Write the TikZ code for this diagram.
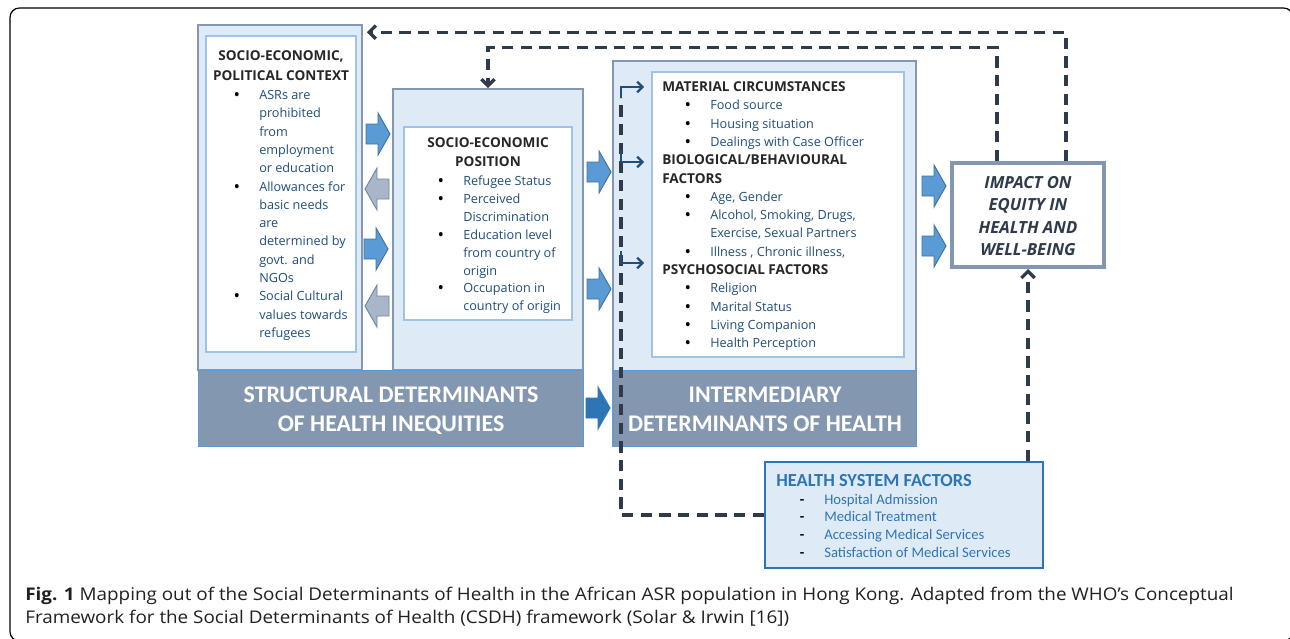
\documentclass[tikz,border=0pt]{standalone}
\usepackage{fontspec}
\setmainfont{Open Sans}
\newfontfamily\calfont{Carlito}
\newfontfamily\capfont[FakeStretch=1.08]{Open Sans}
\usetikzlibrary{arrows.meta,calc,fit}
\definecolor{boxfill}{HTML}{DEEAF6}
\definecolor{slate}{HTML}{8497B0}
\definecolor{innerline}{HTML}{9DC3E6}
\definecolor{itemblue}{HTML}{1F4E79}
\definecolor{headdark}{HTML}{262626}
\definecolor{navy}{HTML}{2F3A4A}
\definecolor{hsblue}{HTML}{2E75B6}
\definecolor{hsfill}{HTML}{DEEBF7}
\definecolor{arrfill}{HTML}{5B9BD5}
\definecolor{arrdraw}{HTML}{41719C}
\definecolor{grayfill}{HTML}{A9B6C9}
\definecolor{graydraw}{HTML}{6F86A6}
\definecolor{capcol}{HTML}{231F20}
\begin{document}
\begin{tikzpicture}[x=0.75pt,y=-0.75pt,
  outerbox/.style={draw=slate, fill=boxfill, line width=1.2pt, inner sep=0pt},
  innerbox/.style={draw=innerline, fill=white, line width=1.2pt, inner sep=0pt},
  bandbox/.style={draw=arrfill, fill=slate, line width=0.6pt, inner sep=0pt},
  itm/.style={anchor=base west, inner sep=0pt, text=itemblue, font=\fontsize{9.5}{11}\selectfont},
  bul/.style={anchor=base, inner sep=0pt, text=black, font=\fontsize{10}{11}\selectfont\bfseries},
  hdr/.style={inner sep=0pt, text=headdark, font=\fontsize{10.2}{11}\selectfont\bfseries},
  bandtxt/.style={anchor=base, inner sep=0pt, text=white, font=\calfont\fontsize{17.9}{20}\selectfont\bfseries},
  imptxt/.style={anchor=base, inner sep=0pt, text=navy, font=\fontsize{12.5}{14}\selectfont\bfseries\itshape},
  hsitm/.style={anchor=base west, inner sep=0pt, text=hsblue, font=\calfont\fontsize{11}{13}\selectfont},
  dl/.style={draw=navy, line width=2.5pt, dash pattern=on 8.5pt off 5.5pt},
  chev/.style={-{Straight Barb[length=5pt,width=10pt]}},
  brarr/.style={draw=itemblue, line width=1.6pt, -{Straight Barb[length=4pt,width=8pt]}},
  rblk/.pic={\path[fill=arrfill, draw=arrdraw, line width=0.7pt] (-12,-10) -- (0,-10) -- (0,-21) -- (12,0) -- (0,21) -- (0,10) -- (-12,10) -- cycle;},
  lblk/.pic={\path[fill=grayfill, draw=graydraw, line width=0.7pt] (12,-10) -- (0,-10) -- (0,-21) -- (-12,0) -- (0,21) -- (0,10) -- (12,10) -- cycle;},
  dblk/.pic={\path[fill=hsblue, draw=hsblue, line width=0.7pt] (-12,-10) -- (0,-10) -- (0,-21) -- (12,0) -- (0,21) -- (0,10) -- (-12,10) -- cycle;}
]
\useasboundingbox (0,0) rectangle (1290,639);
\clip (0,0) rectangle (1290,639);
\draw[line width=0.9pt, rounded corners=7pt] (10,8) rectangle (1293,641);

% structural determinants
\node[outerbox, fit={(198,25) (362,370)}] (ctx) {};
\node[innerbox, fit={(206,36) (356,352)}] (ctxin) {};
\node[outerbox, fit={(393,89) (583,370)}] (sep) {};
\node[innerbox, fit={(404,127) (572,320)}] (sepin) {};
\node[bandbox, fit={(198,370) (583,446)}] (sband) {};
\node[bandtxt] (st1) at (391,402) {STRUCTURAL DETERMINANTS};
\node[bandtxt] (st2) at (391,431) {OF HEALTH INEQUITIES};

% intermediary determinants
\node[outerbox, fit={(613,61) (916,446)}] (inter) {};
\node[innerbox, fit={(652,72) (904,357)}] (interin) {};
\node[bandbox, fit={(613,370) (916,446)}] (iband) {};
\node[bandtxt] (it1) at (765,402) {INTERMEDIARY};
\node[bandtxt] (it2) at (765,431) {DETERMINANTS OF HEALTH};

% impact box
\node[draw=slate, fill=white, line width=3pt, inner sep=0pt, fit={(952,163) (1104,267)}] (impact) {};
\foreach \t [count=\i from 0] in {IMPACT ON, EQUITY IN, HEALTH AND, WELL-BEING}
  \node[imptxt, name=imp\i] at (1028,188+22.6*\i) {\t};

% health system factors
\node[draw=hsblue, fill=hsfill, line width=1.5pt, inner sep=0pt, fit={(765,462) (1043,568)}] (health) {};
\node[anchor=base west, inner sep=0pt, text=hsblue, font=\calfont\fontsize{13.8}{15}\selectfont\bfseries] (hst) at (776,486) {HEALTH SYSTEM FACTORS};
\foreach \t [count=\i from 0] in {Hospital Admission, Medical Treatment, Accessing Medical Services, Satisfaction of Medical Services}{
  \node[hsitm, name=hs\i] at (824,504+17.8*\i) {\t};
  \node[anchor=base, inner sep=0pt, text=black, font=\calfont\fontsize{11}{12}\selectfont\bfseries, name=hsb\i] at (802,504+17.8*\i) {-};
}

% context box text
\node[hdr, anchor=base] (ct1) at (281,60.5) {SOCIO-ECONOMIC,};
\node[hdr, anchor=base] (ct2) at (281,80.5) {POLITICAL CONTEXT};
\foreach \t [count=\i from 0] in {ASRs are, prohibited, from, employment, or education, Allowances for, basic needs, are, determined by, govt. and, NGOs, Social Cultural, values towards, refugees}
  \node[itm, name=c\i] at (259,99.5+18.3*\i) {\t};
\foreach \i in {0,5,11}
  \node[bul, name=cb\i] at (237,99.5+18.3*\i) {•};

% socio-economic position text
\node[hdr, anchor=base] (sp1) at (488,147.5) {SOCIO-ECONOMIC};
\node[hdr, anchor=base] (sp2) at (488,166.5) {POSITION};
\foreach \t [count=\i from 0] in {Refugee Status, Perceived, Discrimination, Education level, from country of, origin, Occupation in, country of origin}
  \node[itm, name=s\i] at (463,185.5+17.9*\i) {\t};
\foreach \i in {0,1,3,6}
  \node[bul, name=sb\i] at (441,185.5+17.9*\i) {•};

% intermediary text
\node[hdr, anchor=base west] (h0) at (662,91.5) {MATERIAL CIRCUMSTANCES};
\node[hdr, anchor=base west] (h4) at (662,91.5+18.3*4) {BIOLOGICAL/BEHAVIOURAL};
\node[hdr, anchor=base west] (h5) at (662,91.5+18.3*5) {FACTORS};
\node[hdr, anchor=base west] (h10) at (662,91.5+18.3*10) {PSYCHOSOCIAL FACTORS};
\foreach \t/\k in {Food source/1, Housing situation/2, Dealings with Case Officer/3, {Age, Gender}/6, {Alcohol, Smoking, Drugs,}/7, {Exercise, Sexual Partners}/8, {Illness , Chronic illness,}/9, Religion/11, Marital Status/12, Living Companion/13, Health Perception/14}
  \node[itm, name=m\k] at (710,91.5+18.3*\k) {\t};
\foreach \k in {1,2,3,6,7,9,11,12,13,14}
  \node[bul, name=mb\k] at (688,91.5+18.3*\k) {•};

% block arrows
\pic (ra1) at (378,134) {rblk};
\pic (la1) at (377,189) {lblk};
\pic (ra2) at (376,249) {rblk};
\pic (la2) at (377,306) {lblk};
\pic (ra3) at (599,172) {rblk};
\pic (ra4) at (599,289) {rblk};
\pic (da1) at (598,408) {dblk};
\pic (ra5) at (934,186) {rblk};
\pic (ra6) at (934,246) {rblk};

% dashed feedback connectors
\draw[dl, chev] ($(impact.north)+(38,0)$) |- ($(ctx.north east)+(4,8)$);
\draw[dl, chev] ($(impact.north)+(-31,0)$) |- ($(sep.north)+(0,-41)$) -- (sep.north);
\draw[dl, chev] (impact.south |- health.north) -- (impact.south);
\coordinate (vtop) at (621,98);
\draw[dl] (health.west) -| (vtop);

% branch arrows into intermediary box
\coordinate (b1s) at (621,98);
\coordinate (b1e) at (644,87);
\coordinate (b2s) at (621,150);
\coordinate (b2e) at (644,162);
\coordinate (b3s) at (621,251);
\coordinate (b3e) at (644,263);
\draw[brarr] (b1s) |- (b1e);
\draw[brarr] (b2s) |- (b2e);
\draw[brarr] (b3s) |- (b3e);

% caption
\node[anchor=base west, inner sep=0pt, text=capcol, font=\capfont\fontsize{13.1}{15}\selectfont] (cap1) at (25,600) {\textbf{Fig. 1} Mapping out of the Social Determinants of Health in the African ASR population in Hong Kong. Adapted from the WHO’s Conceptual};
\node[anchor=base west, inner sep=0pt, text=capcol, font=\capfont\fontsize{13.1}{15}\selectfont] (cap2) at (25,623) {Framework for the Social Determinants of Health (CSDH) framework (Solar \& Irwin [16])};
\end{tikzpicture}
\end{document}
